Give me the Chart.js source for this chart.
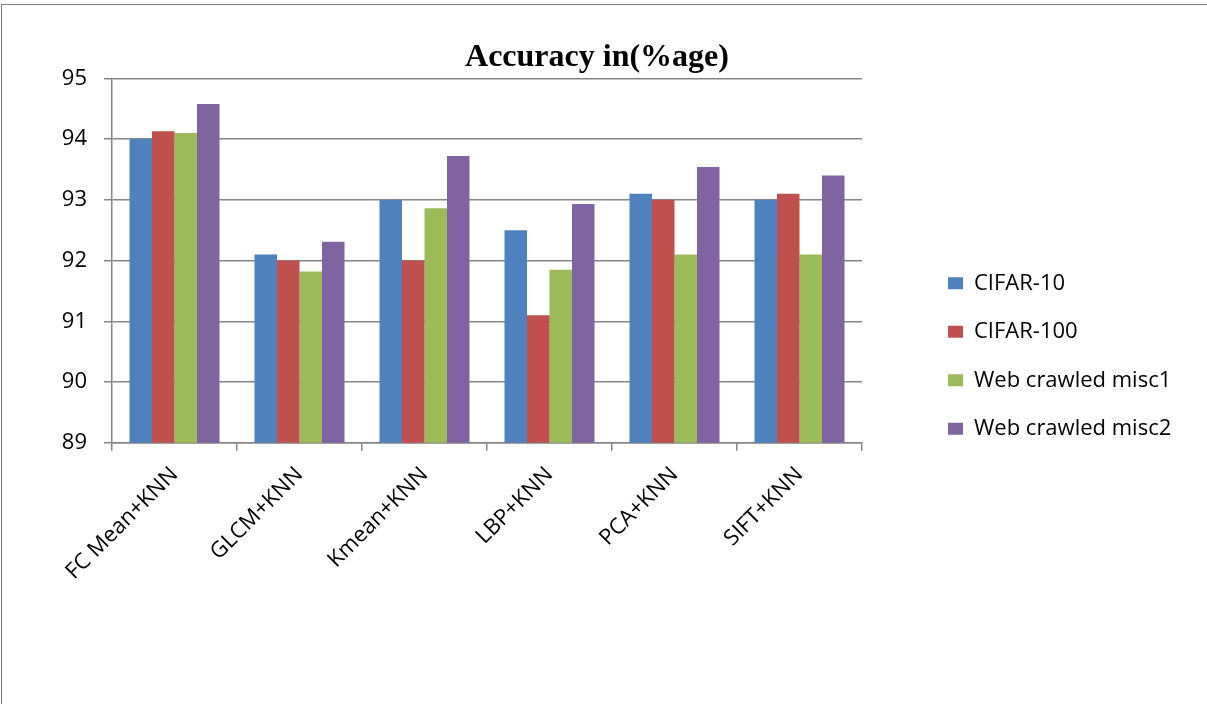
<!DOCTYPE html>
<html>
<head>
<meta charset="utf-8">
<script src="https://cdn.jsdelivr.net/npm/chart.js@4"></script>
<style>
  html, body { margin: 0; padding: 0; background: #ffffff; }
  #wrap { position: relative; width: 1207px; height: 704px; overflow: hidden; }
  #frame { position: absolute; left: 1px; top: 4px; right: -2px; bottom: -2px;
           border-top: 1px solid #7f7f7f; border-left: 1px solid #7f7f7f; pointer-events: none; }
  canvas { position: absolute; left: 0; top: 0; }
</style>
</head>
<body>
<div id="wrap">
  <canvas id="c" width="1207" height="704"></canvas>
  <div id="frame"></div>
</div>
<script>
const categories = ["FC Mean+KNN", "GLCM+KNN", "Kmean+KNN", "LBP+KNN", "PCA+KNN", "SIFT+KNN"];
const seriesNames = ["CIFAR-10", "CIFAR-100", "Web crawled misc1", "Web crawled misc2"];
const cifar10 = [94.0, 92.1, 93.0, 92.5, 93.1, 93.0];
const cifar100 = [94.13, 92.0, 92.0, 91.1, 93.0, 93.1];
const webMisc1 = [94.1, 91.82, 92.86, 91.85, 92.1, 92.1];
const webMisc2 = [94.58, 92.31, 93.72, 92.93, 93.54, 93.4];
const yTicks = [89, 90, 91, 92, 93, 94, 95];
const titleText = "Accuracy in(%age)";

const colors = ["#4F81BD", "#C0504D", "#9BBB59", "#8064A2"];
const seriesValues = [cifar10, cifar100, webMisc1, webMisc2];
const axisColor = "#868686";

// Legend placement: fixed box width, content shifted right/down like the original
const LEGEND_WIDTH = 332;
const LEGEND_SHIFT_X = 59.5;
const LEGEND_SHIFT_Y = 58;

const legendPlacement = {
  id: "legendPlacement",
  afterInit(chart) {
    const lg = chart.legend;
    if (!lg || lg._patched) return;
    lg._patched = true;
    const fit = lg.fit;
    lg.fit = function () { fit.call(this); if (!this.isHorizontal()) this.width = LEGEND_WIDTH; };
    const draw = lg.draw;
    lg.draw = function () {
      const ctx = this.ctx;
      ctx.save();
      ctx.translate(LEGEND_SHIFT_X, LEGEND_SHIFT_Y);
      draw.apply(this, arguments);
      ctx.restore();
    };
  }
};

new Chart(document.getElementById("c"), {
  type: "bar",
  data: {
    labels: categories,
    datasets: seriesNames.map((name, i) => ({
      label: name,
      data: seriesValues[i],
      backgroundColor: colors[i],
      borderWidth: 0,
      categoryPercentage: 0.72,
      barPercentage: 1.0
    }))
  },
  plugins: [legendPlacement],
  options: {
    responsive: false,
    animation: false,
    devicePixelRatio: 1,
    layout: { padding: { left: 0, right: 13, top: 0, bottom: 108 } },
    plugins: {
      title: {
        display: true,
        text: titleText,
        color: "#000000",
        font: { family: "'Liberation Serif', 'Times New Roman', serif", size: 32, weight: "bold" },
        padding: { top: 39, bottom: 1 }
      },
      legend: {
        display: true,
        position: "right",
        labels: {
          color: "#000000",
          font: { family: "'Open Sans', sans-serif", size: 22 },
          boxWidth: 15,
          boxHeight: 12,
          padding: 26.5
        }
      },
      tooltip: { enabled: false }
    },
    scales: {
      x: {
        grid: { display: true, drawOnChartArea: false, drawTicks: true, tickLength: 8,
                color: axisColor, lineWidth: 1.5, offset: true },
        border: { display: true, color: axisColor, width: 1.5 },
        ticks: {
          color: "#000000",
          font: { family: "'Open Sans', sans-serif", size: 22 },
          minRotation: 45, maxRotation: 45, padding: 11, autoSkip: false
        }
      },
      y: {
        min: 89, max: 95,
        afterBuildTicks: (s) => { s.ticks = yTicks.map(v => ({ value: v })); },
        afterFit: (s) => { s.width = 112; },
        grid: { display: true, drawTicks: true, tickLength: 8, color: axisColor, lineWidth: 1.5 },
        border: { display: true, color: axisColor, width: 1.5 },
        ticks: {
          color: "#000000",
          font: { family: "'Open Sans', sans-serif", size: 22 },
          padding: 17
        }
      }
    }
  }
});
</script>
</body>
</html>
